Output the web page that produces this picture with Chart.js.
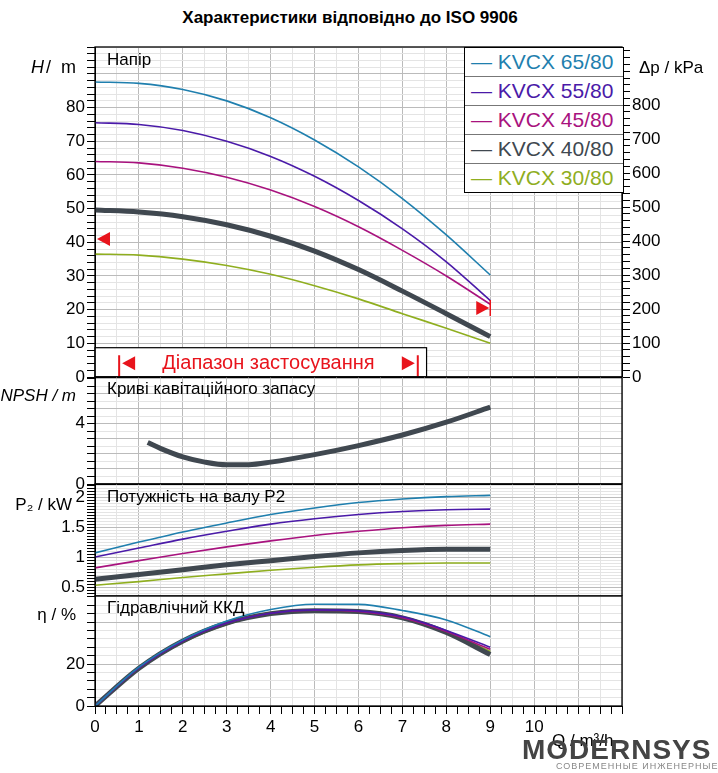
<!DOCTYPE html>
<html><head><meta charset="utf-8">
<script src="https://cdn.jsdelivr.net/npm/chart.js@4"></script>
<style>
body{margin:0;background:#fff;font-family:"Liberation Sans",Arial,sans-serif;}
.p{position:absolute;left:0;width:718px;}
#title{position:absolute;top:8px;left:0;width:700px;text-align:center;font-weight:bold;font-size:17px;}
#legend{position:absolute;left:464px;top:47px;width:158px;border:1px solid #000;background:#fff;}
#legend div{height:28px;font-size:21px;line-height:28px;padding-left:6px;border-top:1px solid #777;white-space:nowrap;}
#legend div:first-child{border-top:none;}
#logo{position:absolute;left:522px;top:734px;font-size:28px;font-weight:bold;color:#444;letter-spacing:1px;}
#logo2{position:absolute;left:556px;top:761px;font-size:9px;color:#888;letter-spacing:1px;white-space:nowrap;}
</style></head><body>
<div id="title">Характеристики відповідно до ISO 9906</div>
<div class="p" style="top:45px;height:344px"><canvas id="c1"></canvas></div>
<div class="p" style="top:375px;height:121px"><canvas id="c2"></canvas></div>
<div class="p" style="top:482px;height:126px"><canvas id="c3"></canvas></div>
<div class="p" style="top:594px;height:179px"><canvas id="c4"></canvas></div>
<div id="legend"></div>
<div id="logo">MODERNSYS</div>
<div id="logo2">СОВРЕМЕННЫЕ ИНЖЕНЕРНЫЕ СИСТЕМЫ</div>
<script>
// flow points, m3/h
var q = [0, 1, 2, 3, 4, 5, 6, 7, 8, 9];
var pumps = ["KVCX 65/80", "KVCX 55/80", "KVCX 45/80", "KVCX 40/80", "KVCX 30/80"];
var colors = ['#1f7fae', '#4a1aa8', '#a8127e', '#404850', '#8fae1f'];
var widths = [1.6, 1.6, 1.6, 5, 1.6];

// head H / m
var head65 = [87.6, 87.2, 85.4, 82.0, 77.0, 70.4, 62.4, 53.0, 42.2, 30.3];
var head55 = [75.5, 75.0, 73.2, 70.0, 65.5, 59.6, 52.4, 44.0, 34.2, 22.7];
var head45 = [64.0, 63.6, 62.0, 59.3, 55.5, 50.6, 44.6, 37.6, 30.0, 21.6];
var head40 = [49.6, 49.0, 47.6, 45.2, 41.8, 37.4, 31.9, 25.5, 18.8, 12.0];
var head30 = [36.5, 36.2, 35.0, 33.1, 30.5, 27.1, 23.2, 18.8, 14.5, 10.0];

// NPSH / m (KVCX 40/80)
var npshQ = [1.2, 1.5, 2, 2.5, 3, 3.5, 4, 5, 6, 7, 8, 9];
var npsh = [2.75, 2.35, 1.8, 1.45, 1.27, 1.28, 1.45, 1.95, 2.55, 3.25, 4.1, 5.1];

// shaft power P2 / kW
var p65 = [1.07, 1.25, 1.42, 1.57, 1.71, 1.82, 1.91, 1.97, 2.01, 2.03];
var p55 = [1.00, 1.15, 1.30, 1.43, 1.55, 1.64, 1.71, 1.76, 1.79, 1.80];
var p45 = [0.82, 0.94, 1.06, 1.17, 1.27, 1.36, 1.43, 1.49, 1.53, 1.55];
var p40 = [0.63, 0.71, 0.79, 0.87, 0.94, 1.01, 1.07, 1.11, 1.13, 1.13];
var p30 = [0.53, 0.59, 0.66, 0.72, 0.78, 0.83, 0.87, 0.89, 0.90, 0.90];

// efficiency / %
var e65 = [0, 18.5, 31.5, 40.5, 46.0, 48.5, 48.4, 45.5, 41.0, 33.0];
var e55 = [0, 18.2, 31.0, 39.5, 44.2, 45.8, 45.3, 42.5, 36.0, 28.0];
var e45 = [0, 18.2, 31.0, 39.5, 44.2, 45.6, 45.0, 42.0, 35.5, 27.0];
var e40 = [0, 18.0, 31.0, 39.5, 44.0, 45.4, 45.0, 42.0, 35.0, 24.5];
var e30 = [0, 17.8, 30.2, 38.8, 43.8, 45.2, 45.0, 42.0, 35.5, 26.0];

var xTicks = [0, 1, 2, 3, 4, 5, 6, 7, 8, 9, 10];

var legend = document.getElementById('legend');
pumps.forEach(function (p, i) {
  var d = document.createElement('div');
  d.style.color = colors[i];
  d.textContent = '— ' + p;
  legend.appendChild(d);
});

function sets(arrs) {
  return arrs.map(function (a, i) {
    return {
      label: pumps[i], borderColor: colors[i], borderWidth: widths[i],
      data: a.map(function (v, k) { return {x: q[k], y: v}; }),
      pointRadius: 0, cubicInterpolationMode: 'monotone', fill: false
    };
  });
}

function gridCol(major) {
  return function (c) {
    var v = c.tick ? c.tick.value : 0;
    return Math.abs(v / major - Math.round(v / major)) < 1e-6 ? '#bbb' : '#e4e4e4';
  };
}

function yAxis(min, max, step, labels, major) {
  return {
    min: min, max: max, position: 'left',
    afterFit: function (s) { s.width = 95; s.paddingTop = 0; s.paddingBottom = 0; },
    afterBuildTicks: function (s) {
      var t = [];
      for (var v = min; v <= max + 1e-9; v += step) t.push({value: +v.toFixed(4)});
      s.ticks = t;
    },
    ticks: {
      autoSkip: false, color: '#000', font: {size: 17, family: 'Liberation Sans'}, padding: 2,
      callback: function (v) { return labels.indexOf(+v.toFixed(4)) >= 0 ? String(v) : ''; }
    },
    grid: {color: gridCol(major), tickColor: '#000', tickLength: 8},
    border: {color: '#000'}
  };
}

function xAxis(show) {
  return {
    type: 'linear', min: 0, max: 12,
    afterFit: function (s) { s.height = show ? 67 : 0; s.paddingLeft = 0; s.paddingRight = 0; },
    afterBuildTicks: function (s) {
      var t = [];
      for (var v = 0; v <= 12; v += 0.25) t.push({value: v});
      s.ticks = t;
    },
    ticks: {
      display: show, autoSkip: false, maxRotation: 0, color: '#000', font: {size: 17, family: 'Liberation Sans'},
      callback: function (v) { return xTicks.indexOf(v) >= 0 ? String(v) : ''; }
    },
    grid: {
      drawTicks: show, tickLength: 8, tickColor: '#000',
      color: function (c) {
        var v = c.tick ? c.tick.value : 0;
        if (Number.isInteger(v)) return '#bbb';
        return v % 0.5 === 0 ? '#e4e4e4' : 'rgba(0,0,0,0)';
      }
    },
    border: {color: '#000'}
  };
}

function deco(texts) {
  return {
    id: 'deco',
    afterDraw: function (ch) {
      var c = ch.ctx, a = ch.chartArea;
      c.save();
      c.strokeStyle = '#000'; c.lineWidth = 1.3;
      c.strokeRect(a.left, a.top, a.right - a.left, a.bottom - a.top);
      c.fillStyle = '#000';
      texts.forEach(function (t) {
        c.font = t.font || '17px "Liberation Sans"';
        c.textAlign = t.align || 'left';
        c.textBaseline = 'middle';
        c.fillText(t.s, t.x, t.y);
      });
      c.restore();
    }
  };
}

function make(id, data, y, extra, texts, showX, extraPlugins) {
  var scales = {x: xAxis(showX), y: y};
  if (extra) scales.y2 = extra;
  return new Chart(document.getElementById(id), {
    type: 'line',
    data: {datasets: data},
    options: {
      responsive: true, maintainAspectRatio: false, animation: false,
      layout: {padding: {top: 2, left: 0, right: extra ? 0 : 96, bottom: showX ? 0 : 12}},
      plugins: {legend: {display: false}, tooltip: {enabled: false}},
      scales: scales
    },
    plugins: [deco(texts)].concat(extraPlugins || [])
  });
}

// head panel, with Δp axis and application range
var kpaMax = 98 * 33.4 / 33.7 * 10;
var dp = {
  min: 0, max: kpaMax, position: 'right',
  afterFit: function (s) { s.width = 96; s.paddingTop = 0; s.paddingBottom = 0; },
  afterBuildTicks: function (s) {
    var t = [];
    for (var v = 0; v <= kpaMax; v += 20) t.push({value: v});
    s.ticks = t;
  },
  ticks: {autoSkip: false, color: '#000', font: {size: 17, family: 'Liberation Sans'}, padding: 2,
    callback: function (v) { return (v % 100 === 0 && v <= 800) ? String(v) : ''; }},
  grid: {drawOnChartArea: false, tickColor: '#000', tickLength: 8, tickWidth: 1},
  border: {color: '#000'}
};
var rangePlugin = {
  id: 'range',
  afterDatasetsDraw: function (ch) {
    var c = ch.ctx, xs = ch.scales.x, ys = ch.scales.y;
    c.save();
    // red markers
    c.fillStyle = '#e8141c';
    var lx = xs.getPixelForValue(0) + 2, ly = ys.getPixelForValue(41);
    c.beginPath(); c.moveTo(lx, ly); c.lineTo(lx + 13, ly - 7); c.lineTo(lx + 13, ly + 7); c.fill();
    var rx = xs.getPixelForValue(9) - 1, ry = ys.getPixelForValue(20.5);
    c.beginPath(); c.moveTo(rx, ry); c.lineTo(rx - 13, ry - 7); c.lineTo(rx - 13, ry + 7); c.fill();
    c.strokeStyle = '#e8141c'; c.lineWidth = 1.5;
    c.beginPath(); c.moveTo(rx + 1, ry - 8); c.lineTo(rx + 1, ry + 8); c.stroke();
    // application range box
    var x0 = xs.getPixelForValue(0), x1 = xs.getPixelForValue(7.55);
    var y0 = ys.getPixelForValue(8.7), y1 = ys.getPixelForValue(0);
    c.fillStyle = '#fff'; c.fillRect(x0, y0, x1 - x0, y1 - y0);
    c.strokeStyle = '#000'; c.lineWidth = 1.2; c.strokeRect(x0, y0, x1 - x0, y1 - y0);
    var a = xs.getPixelForValue(0.55), b = xs.getPixelForValue(7.35), m = (y0 + y1) / 2 + 3;
    c.strokeStyle = '#e8141c'; c.lineWidth = 2;
    c.beginPath(); c.moveTo(a, m - 10); c.lineTo(a, y1); c.moveTo(b, m - 10); c.lineTo(b, y1); c.stroke();
    c.fillStyle = '#e8141c';
    c.beginPath(); c.moveTo(a + 3, m - 2); c.lineTo(a + 16, m - 9); c.lineTo(a + 16, m + 5); c.fill();
    c.beginPath(); c.moveTo(b - 3, m - 2); c.lineTo(b - 16, m - 9); c.lineTo(b - 16, m + 5); c.fill();
    c.font = '20px "Liberation Sans"'; c.textAlign = 'center'; c.textBaseline = 'middle';
    c.fillText('Діапазон застосування', (a + b) / 2, m - 2);
    c.restore();
  }
};
make('c1', sets([head65, head55, head45, head40, head30]),
  yAxis(0, 98, 2, [0, 10, 20, 30, 40, 50, 60, 70, 80], 10), dp,
  [{s: 'Напір', x: 107, y: 15},
   {s: 'H', x: 44, y: 23, font: 'italic 18px "Liberation Sans"', align: 'right'},
   {s: '/  m', x: 76, y: 23, font: '18px "Liberation Sans"', align: 'right'},
   {s: 'Δp / kPa', x: 639, y: 23, font: '17px "Liberation Sans"'}],
  false, [rangePlugin]);

// NPSH panel
make('c2', [{
  borderColor: colors[3], borderWidth: 5, pointRadius: 0, cubicInterpolationMode: 'monotone',
  data: npshQ.map(function (x, k) { return {x: x, y: npsh[k]}; })
}], yAxis(0, 7.1, 0.5, [0, 4], 1), null,
  [{s: 'Криві кавітаційного запасу', x: 107, y: 14},
   {s: 'NPSH / m', x: 76, y: 21, font: 'italic 17px "Liberation Sans"', align: 'right'}],
  false);

// power panel
make('c3', sets([p65, p55, p45, p40, p30]),
  yAxis(0.35, 2.22, 0.05, [0.5, 1, 1.5, 2], 0.5), null,
  [{s: 'Потужність на валу P2', x: 107, y: 15},
   {s: 'P₂ / kW', x: 72, y: 23, font: '17px "Liberation Sans"', align: 'right'}],
  false);

// efficiency panel
make('c4', sets([e65, e55, e45, e40, e30]),
  yAxis(0, 52.4, 4, [0, 20], 20), null,
  [{s: 'Гідравлічний ККД', x: 107, y: 14},
   {s: 'η / %', x: 76, y: 21, font: '17px "Liberation Sans"', align: 'right'},
   {s: 'Q / m³/h', x: 552, y: 147, font: '17px "Liberation Sans"'}],
  true);
</script>
</body></html>
